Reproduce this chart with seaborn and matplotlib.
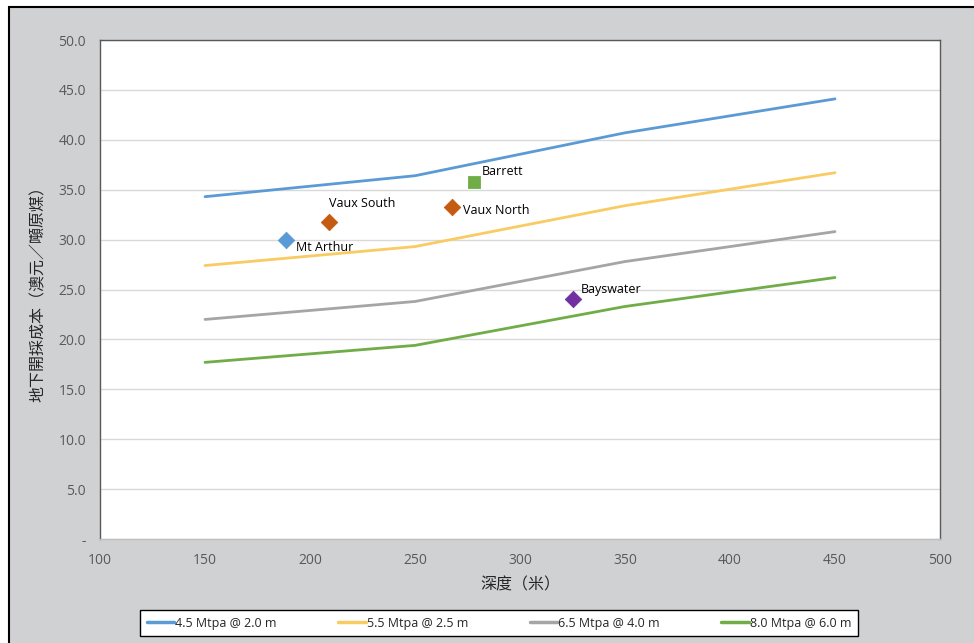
#%% IMPORTS ~~~~~~~~~~~~~~~~~~~~~~~~~~~~~~~~~~~~~~~~~~~~
import pandas as pd
import matplotlib.pyplot as plt
from matplotlib.patches import Rectangle
import seaborn as sns

#%% DATA ~~~~~~~~~~~~~~~~~~~~~~~~~~~~~~~~~~~~~~~~~~~~
depth = [150, 250, 350, 450]
series_names = ["4.5 Mtpa @ 2.0 m", "5.5 Mtpa @ 2.5 m", "6.5 Mtpa @ 4.0 m", "8.0 Mtpa @ 6.0 m"]
cost_45 = [34.3, 36.4, 40.7, 44.1]
cost_55 = [27.4, 29.3, 33.4, 36.7]
cost_65 = [22.0, 23.8, 27.8, 30.8]
cost_80 = [17.7, 19.4, 23.3, 26.2]
series_colors = ["#5b9bd5", "#f8cb63", "#a5a5a5", "#70ad47"]

mine_names = ["Mt Arthur", "Vaux South", "Vaux North", "Barrett", "Bayswater"]
mine_depth = [188.5, 209, 267.5, 278, 325]
mine_cost = [30.0, 31.8, 33.3, 35.8, 24.0]
mine_markers = ["D", "D", "D", "s", "D"]
mine_colors = ["#5b9bd5", "#c55a11", "#c55a11", "#70ad47", "#7030a0"]
label_offsets = [(7, -6), (0, 13), (8, -3), (6, 7), (6, 7)]

#%% PLOT ~~~~~~~~~~~~~~~~~~~~~~~~~~~~~~~~~~~~~~~~~~~~
sns.set_style("white")
plt.rcParams['font.family'] = ['Open Sans', 'Noto Sans CJK TC', 'DejaVu Sans']

lines = pd.DataFrame({
    "depth": depth * 4,
    "cost": cost_45 + cost_55 + cost_65 + cost_80,
    "series": sum([[n] * len(depth) for n in series_names], []),
})

fig = plt.figure(figsize=(9.74, 6.43), dpi=100)
fig.patch.set_facecolor("white")
# grey chart area with black outline (runs past right/bottom edge)
fig.patches.append(Rectangle((9 / 974, -0.1), 1.1, 1 - 7 / 643 + 0.1,
                             transform=fig.transFigure, facecolor="#d0d1d3",
                             edgecolor="black", linewidth=1.5, zorder=-10))
ax = fig.add_axes([100 / 974, 1 - 539 / 643, 840 / 974, 499 / 643])
ax.set_facecolor("white")

sns.lineplot(data=lines, x="depth", y="cost", hue="series", hue_order=series_names,
             palette=series_colors, linewidth=2.0, legend=False, ax=ax)

for name, xd, yc, mk, col, off in zip(mine_names, mine_depth, mine_cost,
                                      mine_markers, mine_colors, label_offsets):
    sns.scatterplot(x=[xd], y=[yc], marker=mk, s=70 if mk == "D" else 70, color=col,
                    edgecolor=col, linewidth=0.6, ax=ax, zorder=5)
    ax.annotate(name, (xd, yc), xytext=off, textcoords="offset points",
                fontsize=9, color="black", ha="left", va="center")

ax.set_xlim(100, 500)
ax.set_ylim(0, 50)
ax.set_xticks(range(100, 501, 50))
ax.set_yticks(range(0, 51, 5))
ax.set_yticklabels(["-"] + [f"{v:.1f}" for v in range(5, 51, 5)])
ax.tick_params(axis="both", colors="#595959", labelsize=10, length=0, pad=10)
ax.grid(axis="y", color="#d9d9d9", linewidth=1)
for side in ["top", "left", "right", "bottom"]:
    ax.spines[side].set_color("#595959")
    ax.spines[side].set_linewidth(1)
ax.spines["bottom"].set_color("#bfbfbf")

ax.set_xlabel("深度（米）", fontsize=11.5, labelpad=6,
              family=['Noto Sans CJK TC', 'DejaVu Sans'])
ax.set_ylabel("地下開採成本（澳元／噸原煤）", fontsize=11.5, labelpad=8,
              family=['Noto Sans CJK TC', 'DejaVu Sans'])

handles = [plt.Line2D([], [], color=c, linewidth=2.5) for c in series_colors]
leg = fig.legend(handles, series_names, loc="center", bbox_to_anchor=(499 / 974, 1 - 623 / 643),
                 ncol=4, frameon=True, fancybox=False, fontsize=9, handlelength=2.2,
                 handletextpad=0.1, columnspacing=4.9, borderpad=0.5, framealpha=1)
leg.get_frame().set_edgecolor("black")
leg.get_frame().set_facecolor("white")
leg.get_frame().set_linewidth(1)

fig.savefig("out.png", dpi=100)
